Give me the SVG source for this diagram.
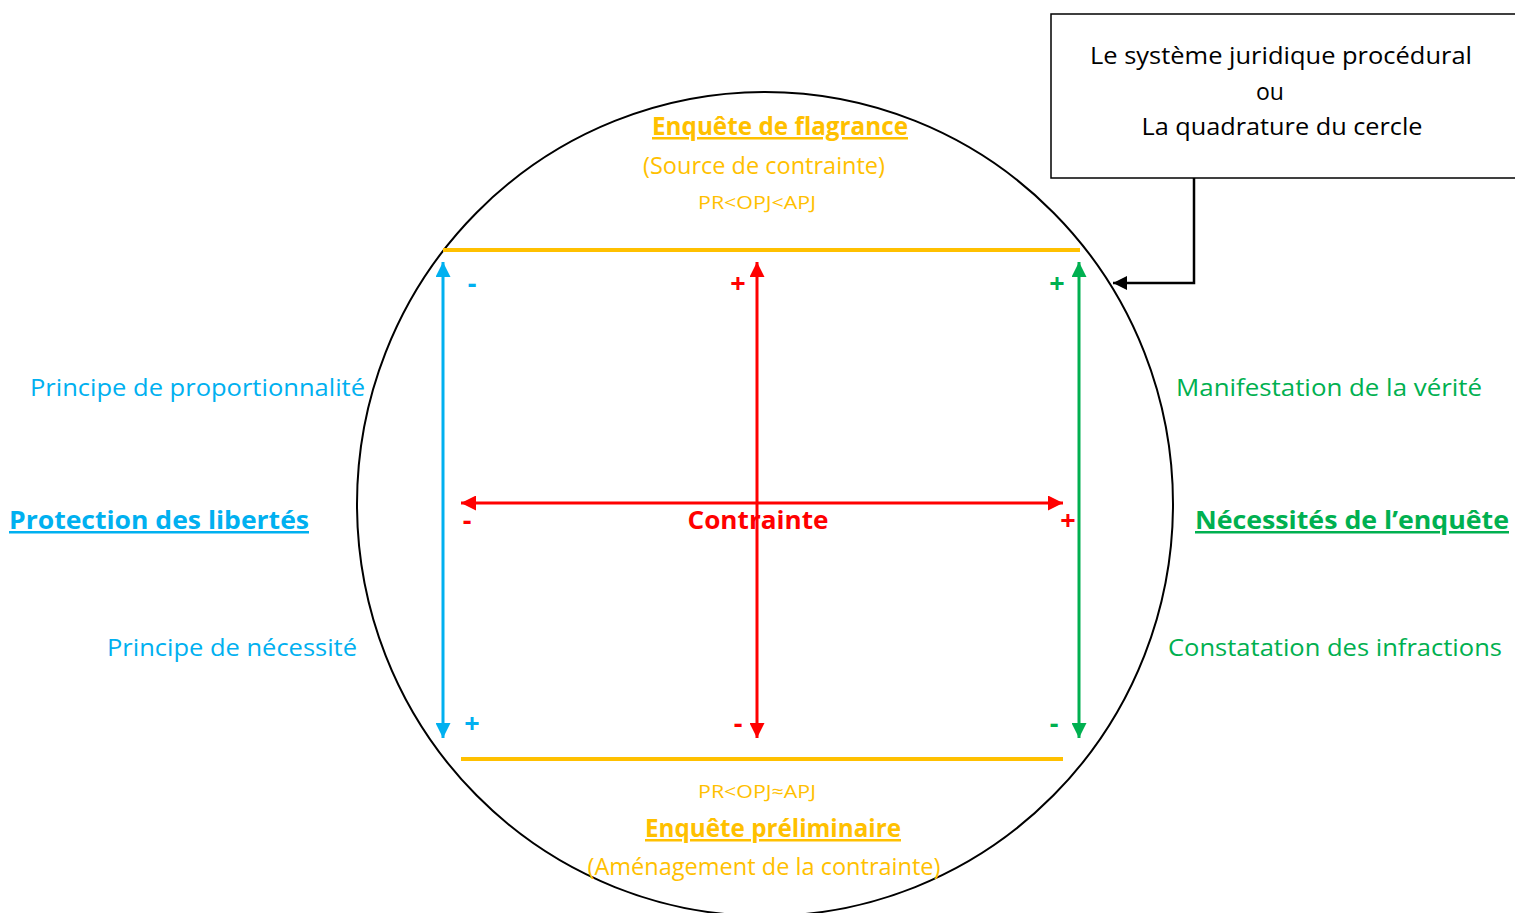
<svg xmlns="http://www.w3.org/2000/svg" width="1515" height="913" viewBox="0 0 1515 913">
<style>
text{font-family:"Open Sans","Liberation Sans",sans-serif;}
.y{fill:#FFC000}.b{fill:#00B0F0}.g{fill:#00B050}.r{fill:#FF0000}.k{fill:#000}
.lbl{font-size:23px}
.big{font-size:25px;font-weight:bold;text-decoration:underline}
.sm{font-size:18px}
.pm{font-size:27px;font-weight:bold}
</style>
<defs>
<marker id="hb" viewBox="0 0 10 10" refX="10" refY="5" markerWidth="16" markerHeight="15" markerUnits="userSpaceOnUse" orient="auto-start-reverse"><path d="M0,0L10,5L0,10Z" fill="#00B0F0"/></marker>
<marker id="hr" viewBox="0 0 10 10" refX="10" refY="5" markerWidth="16" markerHeight="15" markerUnits="userSpaceOnUse" orient="auto-start-reverse"><path d="M0,0L10,5L0,10Z" fill="#FF0000"/></marker>
<marker id="hg" viewBox="0 0 10 10" refX="10" refY="5" markerWidth="16" markerHeight="15" markerUnits="userSpaceOnUse" orient="auto-start-reverse"><path d="M0,0L10,5L0,10Z" fill="#00B050"/></marker>
<marker id="hk" viewBox="0 0 10 10" refX="10" refY="5" markerWidth="15" markerHeight="14" markerUnits="userSpaceOnUse" orient="auto"><path d="M0,0L10,5L0,10Z" fill="#000"/></marker>
</defs>
<rect width="1515" height="913" fill="#fff"/>
<g id="circle"><ellipse cx="765" cy="504" rx="408" ry="412" fill="none" stroke="#000" stroke-width="2"/></g>
<g id="title-box">
<rect x="1051" y="14" width="470" height="164" fill="#fff" stroke="#000" stroke-width="1.5"/>
<text class="k lbl" x="1281" y="64" text-anchor="middle" textLength="382" lengthAdjust="spacingAndGlyphs">Le système juridique procédural</text>
<text class="k lbl" x="1270" y="100" text-anchor="middle">ou</text>
<text class="k lbl" x="1282" y="135" text-anchor="middle" textLength="281" lengthAdjust="spacingAndGlyphs">La quadrature du cercle</text>
</g>
<g id="connectors">
<polyline points="1194,178 1194,283 1113,283" fill="none" stroke="#000" stroke-width="2.5" marker-end="url(#hk)"/>
<line x1="443" y1="250" x2="1080" y2="250" stroke="#FFC000" stroke-width="4"/>
<line x1="461" y1="759" x2="1063" y2="759" stroke="#FFC000" stroke-width="4"/>
<line x1="443" y1="262" x2="443" y2="738" stroke="#00B0F0" stroke-width="3" marker-start="url(#hb)" marker-end="url(#hb)"/>
<line x1="757" y1="262" x2="757" y2="738" stroke="#FF0000" stroke-width="3" marker-start="url(#hr)" marker-end="url(#hr)"/>
<line x1="1079" y1="262" x2="1079" y2="738" stroke="#00B050" stroke-width="3" marker-start="url(#hg)" marker-end="url(#hg)"/>
<line x1="461" y1="503" x2="1063" y2="503" stroke="#FF0000" stroke-width="3" marker-start="url(#hr)" marker-end="url(#hr)"/>
</g>
<g id="flagrance">
<text class="y big" x="780" y="135" text-anchor="middle" textLength="256" lengthAdjust="spacingAndGlyphs">Enquête de flagrance</text>
<text class="y lbl" x="764" y="174" text-anchor="middle" textLength="242" lengthAdjust="spacingAndGlyphs">(Source de contrainte)</text>
<text class="y sm" x="757" y="209" text-anchor="middle" textLength="118" lengthAdjust="spacingAndGlyphs">PR&lt;OPJ&lt;APJ</text>
</g>
<g id="preliminaire">
<text class="y sm" x="757" y="798" text-anchor="middle" textLength="118" lengthAdjust="spacingAndGlyphs">PR&lt;OPJ≈APJ</text>
<text class="y big" x="773" y="837" text-anchor="middle" textLength="256" lengthAdjust="spacingAndGlyphs">Enquête préliminaire</text>
<text class="y lbl" x="764" y="875" text-anchor="middle" textLength="353" lengthAdjust="spacingAndGlyphs">(Aménagement de la contrainte)</text>
</g>
<g id="libertes">
<text class="b lbl" x="30" y="396" textLength="335" lengthAdjust="spacingAndGlyphs">Principe de proportionnalité</text>
<text class="b big" x="9" y="529" textLength="300" lengthAdjust="spacingAndGlyphs">Protection des libertés</text>
<text class="b lbl" x="107" y="656" textLength="250" lengthAdjust="spacingAndGlyphs">Principe de nécessité</text>
</g>
<g id="enquete">
<text class="g lbl" x="1176" y="396" textLength="306" lengthAdjust="spacingAndGlyphs">Manifestation de la vérité</text>
<text class="g big" x="1195" y="529" textLength="314" lengthAdjust="spacingAndGlyphs">Nécessités de l’enquête</text>
<text class="g lbl" x="1168" y="656" textLength="334" lengthAdjust="spacingAndGlyphs">Constatation des infractions</text>
</g>
<g id="contrainte">
<text class="r" x="758" y="529" text-anchor="middle" font-size="25" font-weight="bold" textLength="141" lengthAdjust="spacingAndGlyphs">Contrainte</text>
</g>
<g id="signs">
<text class="b pm" x="472" y="293" text-anchor="middle">-</text>
<text class="r pm" x="738" y="293" text-anchor="middle">+</text>
<text class="g pm" x="1057" y="293" text-anchor="middle">+</text>
<text class="r pm" x="467" y="530" text-anchor="middle">-</text>
<text class="r pm" x="1068" y="530" text-anchor="middle">+</text>
<text class="b pm" x="472" y="733" text-anchor="middle">+</text>
<text class="r pm" x="738" y="733" text-anchor="middle">-</text>
<text class="g pm" x="1054" y="733" text-anchor="middle">-</text>
</g>
</svg>
